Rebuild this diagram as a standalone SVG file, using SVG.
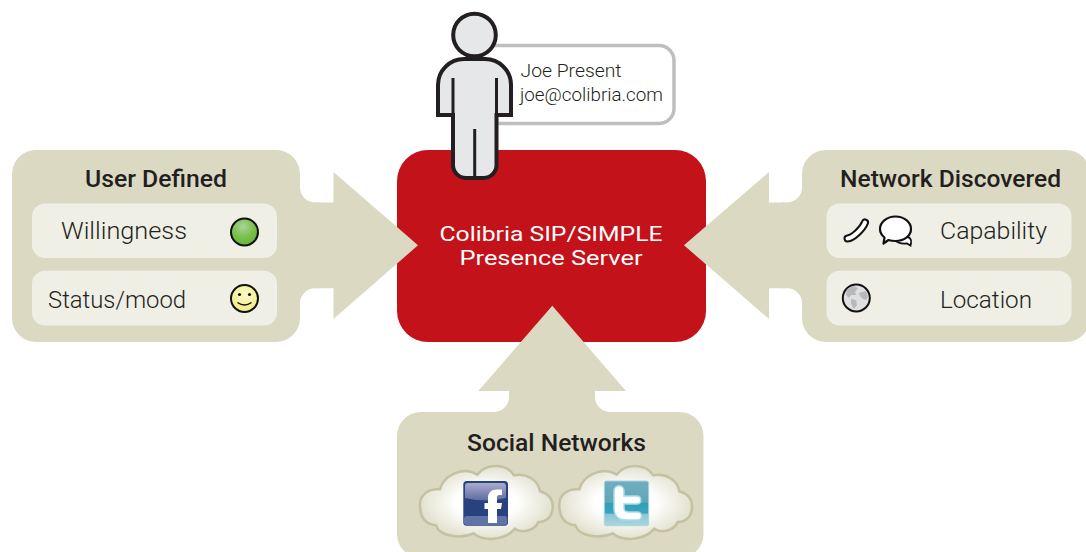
<svg xmlns="http://www.w3.org/2000/svg" width="1086" height="552" viewBox="0 0 1086 552">
<style>
.panel{fill:#dcd9c3}
.row{fill:#efefe6}
text{font-family:"Roboto","Liberation Sans",sans-serif;fill:#231f20}
.h{font-size:23px;font-weight:500}
.r{font-size:23px;font-weight:300}
.c{font-size:18px;font-weight:300}
.w{font-size:20.400px;fill:#fff;font-weight:400}
.ic{stroke:#111;stroke-width:2}
.p{fill:#e6e7e8;stroke:#231f20;stroke-width:4}
.cl{fill:url(#cg);stroke:#c4c2a2;stroke-width:7.500}
</style>
<defs>
<radialGradient id="cg" cx=".5" cy=".5" r=".55"><stop offset=".4" stop-color="#fff"/><stop offset="1" stop-color="#dedcc6"/></radialGradient>
<radialGradient id="gg" cx=".45" cy=".3" r=".7"><stop offset="0" stop-color="#a9d49a"/><stop offset=".6" stop-color="#78bf48"/><stop offset="1" stop-color="#6cb33f"/></radialGradient>
<radialGradient id="yg" cx=".5" cy=".35" r=".7"><stop offset="0" stop-color="#fbf9c8"/><stop offset="1" stop-color="#f1ea78"/></radialGradient>
<linearGradient id="fb" x1="0" y1="0" x2="0" y2="1"><stop offset="0" stop-color="#aaaccb"/><stop offset="1" stop-color="#5d6ca2"/></linearGradient>
<linearGradient id="tw" x1="0" y1="0" x2="0" y2="1"><stop offset="0" stop-color="#71aebf"/><stop offset=".48" stop-color="#5fa6b9"/><stop offset=".5" stop-color="#2f9fb8"/><stop offset=".72" stop-color="#3ba5bc"/><stop offset=".74" stop-color="#8cc5d2"/><stop offset="1" stop-color="#a9d6e0"/></linearGradient>
<path id="cloud" d="M90 615C90 585 115 564 150 568C160 530 215 496 262 524C290 488 350 490 372 526C410 518 445 542 450 574C478 582 490 600 488 625C486 650 470 666 445 666C435 692 395 702 375 686C345 722 280 726 250 700C215 716 150 712 138 676C105 673 90 650 90 615Z"/>
</defs>
<rect width="1086" height="552" fill="#fff"/>

<g id="server">
<rect x="397" y="150" width="309" height="192" rx="31" fill="#c4121a"/>
<text class="w" x="551" y="241" text-anchor="middle" textLength="223" lengthAdjust="spacingAndGlyphs">Colibria SIP/SIMPLE</text>
<text class="w" x="551" y="265" text-anchor="middle" textLength="183" lengthAdjust="spacingAndGlyphs">Presence Server</text>
</g>

<g id="connectors">
<path class="panel" d="M333.500 202.500V172L418 245.300L333.500 319V288.300H315V202.500Z"/>
<path class="panel" d="M769 202.500V172L684 245.300L769 319V288.300H787V202.500Z"/>
<path class="panel" d="M509 391H478.300L552.300 305.700L626 391H595V412H509Z"/>
</g>

<g id="user-defined">
<path class="panel" d="M36 150H276A24 24 0 0 1 300 174V187.500A15 15 0 0 0 315 202.500H320V288.300H315A15 15 0 0 0 300 303.300V318A24 24 0 0 1 276 342H36A24 24 0 0 1 12 318V174A24 24 0 0 1 36 150Z"/>
<text class="h" x="156" y="187" text-anchor="middle" textLength="142" lengthAdjust="spacingAndGlyphs">User Defined</text>
<rect class="row" x="32" y="203.500" width="245" height="54.500" rx="13"/>
<rect class="row" x="32" y="270.700" width="245" height="54.800" rx="13"/>
<text class="r" x="61" y="239" textLength="126" lengthAdjust="spacingAndGlyphs">Willingness</text>
<text class="r" x="48" y="308" textLength="138" lengthAdjust="spacingAndGlyphs">Status/mood</text>
<circle class="ic" cx="244.500" cy="232" r="13.500" fill="url(#gg)"/>
<circle class="ic" cx="244.500" cy="298.500" r="13.500" fill="url(#yg)"/>
<circle cx="239.500" cy="294.500" r="1.600" fill="#111"/>
<circle cx="249.500" cy="294.500" r="1.600" fill="#111"/>
<path d="M237.500 302.500Q244.500 307.500 251.500 302.500" fill="none" stroke="#111" stroke-width="1.500"/>
</g>

<g id="network-discovered">
<path class="panel" d="M826 150H1066A24 24 0 0 1 1090 174V318A24 24 0 0 1 1066 342H826A24 24 0 0 1 802 318V303.300A15 15 0 0 0 787 288.300H782V202.500H787A15 15 0 0 0 802 187.500V174A24 24 0 0 1 826 150Z"/>
<text class="h" x="950.500" y="187" text-anchor="middle" textLength="221" lengthAdjust="spacingAndGlyphs">Network Discovered</text>
<rect class="row" x="826.500" y="203.500" width="245" height="54.500" rx="13"/>
<rect class="row" x="826.500" y="270.700" width="245" height="54.800" rx="13"/>
<text class="r" x="940" y="239" textLength="107" lengthAdjust="spacingAndGlyphs">Capability</text>
<text class="r" x="940" y="308" textLength="92" lengthAdjust="spacingAndGlyphs">Location</text>
<path d="M847.500 238.500C853 238 862.500 229 865 222.500" fill="none" stroke="#111" stroke-width="8" stroke-linecap="round"/>
<path d="M847.500 238.500C853 238 862.500 229 865 222.500" fill="none" stroke="#fff" stroke-width="4" stroke-linecap="round"/>
<path d="M903 236C910 236 912 240 911 243L910.500 245.500L907 243.500C902 244 897 243 894 239Z" fill="#fff" stroke="#111" stroke-width="1.800"/>
<path d="M895.500 216.500C904 216.500 911 222 911 229C911 236 904 241 895.500 241C892.500 241 890 240.500 888.500 240L883.500 243.500L884.500 237.500C881.500 235 880 232 880 229C880 222 887 216.500 895.500 216.500Z" fill="#fff" stroke="#111" stroke-width="2.200" stroke-linejoin="round"/>
<circle cx="856.300" cy="298" r="13.500" fill="#dfdfdf" stroke="#111" stroke-width="2"/>
<path d="M847 289L853 286L858 288L855 292L856 295L851 295L849 298L846 295ZM859 293L866 291L868 297L866 300L863 299L860 296ZM851 299L856 300L857 305L854 309L851 304Z" fill="#b6b8ba"/>
</g>

<g id="social-networks">
<path class="panel" d="M421 412H494A15 15 0 0 0 509 397V385H595V397A15 15 0 0 0 610 412H679.500A24 24 0 0 1 703.500 436V534A24 24 0 0 1 679.500 558H421A24 24 0 0 1 397 534V436A24 24 0 0 1 421 412Z"/>
<text class="h" x="556.500" y="451" text-anchor="middle" textLength="179" lengthAdjust="spacingAndGlyphs">Social Networks</text>
<g transform="translate(390 300) scale(.3333)">
<use href="#cloud" class="cl"/>
<use href="#cloud" class="cl" transform="translate(418 0)"/>
</g>
<rect x="463.300" y="481" width="44.700" height="44.700" rx="3.500" fill="#27427f"/>
<path d="M465 486a3 3 0 0 1 3-3h35a3 3 0 0 1 3 3v12q-20 5-41 0Z" fill="url(#fb)"/>
<rect x="464" y="516" width="43.300" height="9" rx="2.500" fill="#5f73a6"/>
<path d="M488 523V509H484.500V503H488V498C488 492 492 489 498 489.500H502V495H499.500C497.500 495 497 496 497 497.500V503H502L501 509H497V523Z" fill="#fff"/>
<rect x="604.300" y="481" width="44.400" height="44.700" rx="2" fill="url(#tw)" stroke="#a8d5e0" stroke-width="1"/>
<path d="M614 491C614 484 624 484 624 491V496H637C642 496 642 504 637 504H624V508C624 511 626 512 629 512H637C643 512 643 520 637 520H626C618 520 614 515 614 508Z" fill="#fff" stroke="#a9dbe7" stroke-width="1.500"/>
</g>

<g id="joe">
<rect x="474" y="45.500" width="200" height="78" rx="15" fill="#fff" stroke="#bcbec0" stroke-width="3.500"/>
<text class="c" x="520.500" y="77" textLength="101" lengthAdjust="spacingAndGlyphs">Joe Present</text>
<text class="c" x="520" y="101" textLength="143" lengthAdjust="spacingAndGlyphs">joe@colibria.com</text>
<circle class="p" cx="474.500" cy="35" r="21.300"/>
<path class="p" d="M453 115H438V85A26 26 0 0 1 464 59H485A26 26 0 0 1 511 85V115H496.500V165A13 13 0 0 1 483.500 178H466A13 13 0 0 1 453 165Z"/>
<path d="M453 78V115M496.500 78V115M474.700 129V178" fill="none" stroke="#231f20" stroke-width="3"/>
</g>
</svg>
